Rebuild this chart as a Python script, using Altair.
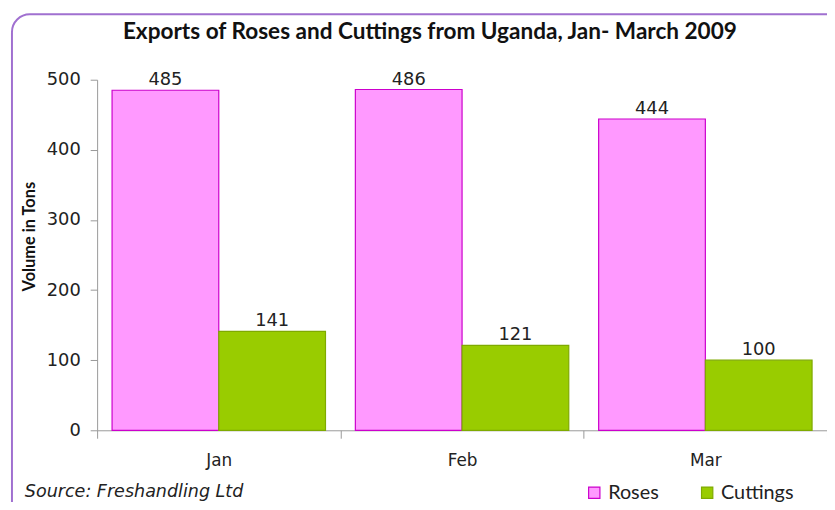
import altair as alt
import pandas as pd

months = ["Jan", "Feb", "Mar"]
roses = [485, 486, 444]
cuttings = [141, 121, 100]
series = ["Roses", "Cuttings"]
fills = ["#FF99FF", "#99CC00"]
strokes = ["#CC00CC", "#7FAA00"]
source_note = "Source: Freshandling Ltd"
title_text = "Exports of Roses and Cuttings from Uganda, Jan- March 2009"

rows = []
for m, r, c in zip(months, roses, cuttings):
    rows.append({"Month": m, "Type": "Roses", "Volume": r})
    rows.append({"Month": m, "Type": "Cuttings", "Volume": c})
df = pd.DataFrame(rows)

W, H = 737, 354

xenc = alt.X("Month:N", sort=months, scale=alt.Scale(paddingInner=0, paddingOuter=0),
             axis=alt.Axis(title=None, labelAngle=0, tickBand="extent", tickSize=8,
                           labelPadding=15, labelFont="DejaVu Sans", labelFontSize=17,
                           labelColor="#222", domainColor="#999", tickColor="#999"))
xoff = alt.XOffset("Type:N", sort=series, scale=alt.Scale(paddingInner=0, paddingOuter=0.14))

leg = alt.Legend(title=None, orient="none", direction="horizontal",
                 legendX=492, legendY=407, symbolType="square",
                 symbolSize=130, symbolStrokeWidth=1.2, columnPadding=38,
                 labelFont="Lato", labelFontSize=20, labelColor="#222",
                 labelOffset=4)

bars = alt.Chart(df).mark_bar(strokeWidth=1.2).encode(
    x=xenc,
    xOffset=xoff,
    y=alt.Y("Volume:Q", scale=alt.Scale(domain=[0, 500]),
            axis=alt.Axis(title="Volume in Tons", values=[0, 100, 200, 300, 400, 500], grid=False,
                          tickSize=7, labelPadding=10, labelFont="DejaVu Sans", labelFontSize=18,
                          labelColor="#222", domainColor="#999", tickColor="#999",
                          titleFont="Lato", titleFontSize=16.5, titleFontWeight="bold",
                          titleColor="#111", titleX=-68, titleY=158, titleBaseline="middle",
                          titleAlign="center")),
    fill=alt.Fill("Type:N", sort=series, scale=alt.Scale(domain=series, range=fills), legend=leg),
    stroke=alt.Stroke("Type:N", sort=series, scale=alt.Scale(domain=series, range=strokes), legend=leg),
)

labels = alt.Chart(df).mark_text(baseline="bottom", dy=-1, font="DejaVu Sans", fontSize=18,
                                 color="#222").encode(
    x=alt.X("Month:N", sort=months),
    xOffset=alt.XOffset("Type:N", sort=series),
    y="Volume:Q",
    text="Volume:Q",
)

note = alt.Chart(pd.DataFrame({"t": [source_note]})).mark_text(
    align="left", baseline="middle", font="DejaVu Sans", fontStyle="italic", fontSize=17.7, color="#222"
).encode(x=alt.value(-73), y=alt.value(416), text="t:N")

title = alt.Chart(pd.DataFrame({"t": [title_text]})).mark_text(
    align="center", baseline="middle", font="Lato", fontWeight="bold", fontSize=22.8, color="#111"
).encode(x=alt.value(336), y=alt.value(-48), text="t:N")

border = alt.Chart(pd.DataFrame({"t": [0]})).mark_rect(
    fill="transparent", stroke="#A070D0", strokeWidth=2, cornerRadius=18
).encode(x=alt.value(-86), x2=alt.value(760), y=alt.value(-66), y2=alt.value(460))

chart = alt.layer(border, bars, labels, note, title).properties(
    width=W, height=H,
    background="white",
    autosize=alt.AutoSizeParams(type="none"),
    padding={"left": 90, "top": 70, "right": 0, "bottom": 70},
).configure_view(stroke="transparent", strokeWidth=0)

chart.save("out.html", embed_options={"renderer": "svg", "actions": False})
